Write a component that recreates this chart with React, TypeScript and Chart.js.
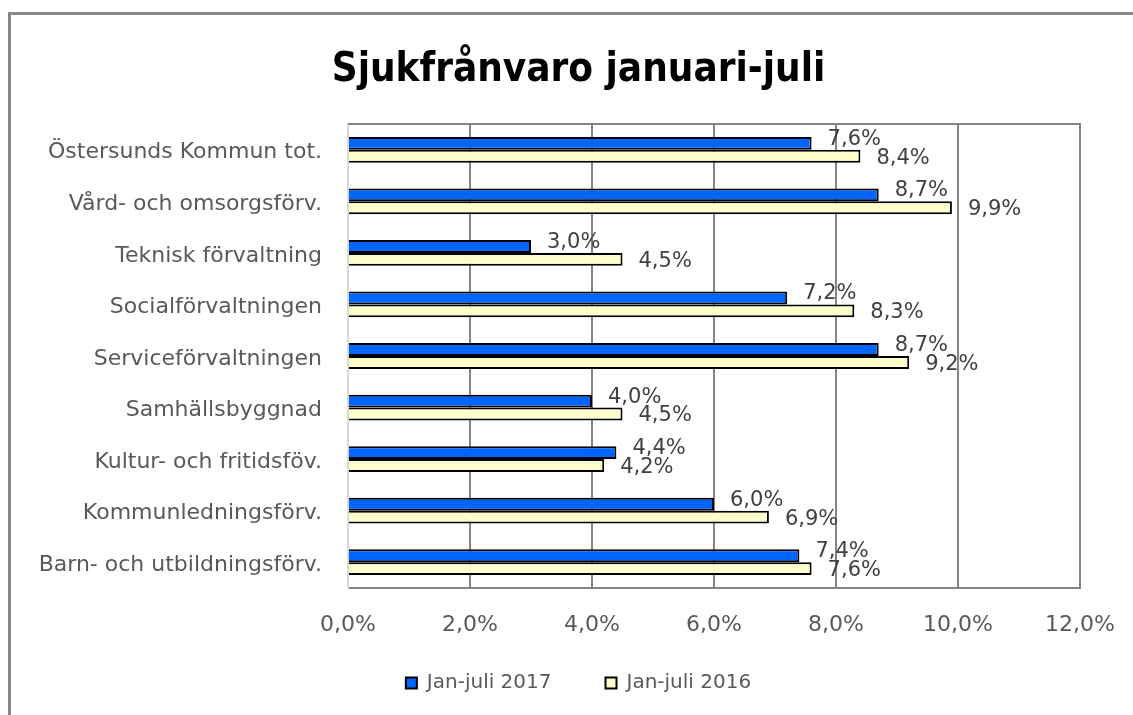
import React, { useEffect, useRef } from "react";
import { Chart, registerables } from "chart.js";

Chart.register(...registerables);

const categories = [
  "Östersunds Kommun tot.",
  "Vård- och omsorgsförv.",
  "Teknisk förvaltning",
  "Socialförvaltningen",
  "Serviceförvaltningen",
  "Samhällsbyggnad",
  "Kultur- och fritidsföv.",
  "Kommunledningsförv.",
  "Barn- och utbildningsförv.",
];
const series2017 = [7.6, 8.7, 3.0, 7.2, 8.7, 4.0, 4.4, 6.0, 7.4];
const series2016 = [8.4, 9.9, 4.5, 8.3, 9.2, 4.5, 4.2, 6.9, 7.6];
const seriesNames = ["Jan-juli 2017", "Jan-juli 2016"];
const xTicks = [0, 2, 4, 6, 8, 10, 12];
const titleText = "Sjukfrånvaro januari-juli";

const FONT = "'DejaVu Sans', 'Open Sans', sans-serif";
const fmt = (v: number) => v.toFixed(1).replace(".", ",") + "%";
const LEGEND_PAD = 54;

const framePlugin = {
  id: "frame",
  afterLayout(chart: any) {
    if (chart.legend) {
      chart.legend.top -= LEGEND_PAD - 10;
    }
  },
  beforeDraw(chart: any) {
    const ctx = chart.ctx;
    ctx.save();
    ctx.fillStyle = "#ffffff";
    ctx.fillRect(0, 0, chart.width, chart.height);
    ctx.strokeStyle = "#878787";
    ctx.lineWidth = 3;
    ctx.beginPath();
    ctx.moveTo(9.5, chart.height + 10);
    ctx.lineTo(9.5, 13.5);
    ctx.lineTo(chart.width + 10, 13.5);
    ctx.stroke();
    ctx.restore();
  },
  afterDraw(chart: any) {
    const { ctx, chartArea } = chart;
    ctx.save();
    ctx.strokeStyle = "#858585";
    ctx.lineWidth = 2;
    ctx.beginPath();
    ctx.moveTo(chartArea.left, chartArea.top);
    ctx.lineTo(chartArea.right + 1, chartArea.top);
    ctx.stroke();
    ctx.restore();
  },
};

const labelPlugin = {
  id: "barLabels",
  afterDatasetsDraw(chart: any) {
    const ctx = chart.ctx;
    ctx.save();
    ctx.font = `21px ${FONT}`;
    ctx.fillStyle = "#404040";
    ctx.textAlign = "left";
    ctx.textBaseline = "middle";
    chart.data.datasets.forEach((ds: any, di: number) => {
      const meta = chart.getDatasetMeta(di);
      meta.data.forEach((el: any, i: number) => {
        const dy = di === 0 ? -4 : 2;
        ctx.fillText(fmt(ds.data[i]), el.x + 16, el.y + dy);
      });
    });
    ctx.restore();
  },
};

export default function App() {
  const ref = useRef<HTMLCanvasElement | null>(null);
  useEffect(() => {
    if (!ref.current) return;
    const chart = new Chart(ref.current, {
      type: "bar",
      data: {
        labels: categories,
        datasets: [
          {
            label: seriesNames[0],
            data: series2017,
            backgroundColor: "#0066ff",
            borderColor: "#000000",
            borderWidth: 2,
          },
          {
            label: seriesNames[1],
            data: series2016,
            backgroundColor: "#ffffcc",
            borderColor: "#000000",
            borderWidth: 2,
          },
        ],
      },
      options: {
        indexAxis: "y",
        responsive: false,
        animation: false,
        devicePixelRatio: 1,
        datasets: { bar: { categoryPercentage: 0.5, barPercentage: 1.0 } },
        layout: { padding: { left: 24, right: 0, top: 0, bottom: 12 } },
        scales: {
          x: {
            min: 0,
            max: 12,
            afterBuildTicks: (s: any) => {
              s.ticks = xTicks.map((v) => ({ value: v }));
            },
            afterFit: (s: any) => {
              s.height = 75;
            },
            ticks: {
              callback: (v: any) => fmt(Number(v)),
              font: { family: FONT, size: 22 },
              color: "#595959",
              padding: 2,
              maxRotation: 0,
            },
            grid: {
              color: (c: any) => (c.index === 0 ? "#d9d9d9" : "#858585"),
              lineWidth: 2,
              drawTicks: true,
              tickLength: 22,
              tickColor: "rgba(0,0,0,0)",
            },
            border: { display: true, color: "#858585", width: 2 },
          },
          y: {
            afterFit: (s: any) => {
              s.width = 324;
            },
            ticks: {
              font: { family: FONT, size: 22 },
              color: "#595959",
              padding: 26,
              labelOffset: 3,
            },
            grid: { display: false, drawTicks: false },
            border: { display: true, color: "#d9d9d9", width: 2 },
          },
          y2: {
            position: "right",
            display: true,
            afterFit: (s: any) => {
              s.width = 53;
            },
            ticks: { display: false },
            grid: { display: false, drawTicks: false },
            border: { display: false },
          },
        },
        plugins: {
          title: {
            display: true,
            text: titleText,
            color: "#000000",
            font: {
              family: "'Liberation Sans Narrow', 'DejaVu Sans Condensed', sans-serif",
              size: 40,
              weight: "bold",
            },
            padding: { top: 47, bottom: 29 },
          },
          legend: {
            position: "bottom",
            maxHeight: 40,
            labels: {
              font: { family: FONT, size: 20 },
              color: "#595959",
              boxWidth: 11,
              boxHeight: 11,
              padding: LEGEND_PAD,
            },
          },
          tooltip: { enabled: false },
        },
      },
      plugins: [framePlugin, labelPlugin],
    });
    return () => chart.destroy();
  }, []);
  return (
    <div style={{ position: "absolute", left: 0, top: 0, width: 1133, height: 715 }}>
      <canvas ref={ref} width={1133} height={715} />
    </div>
  );
}
